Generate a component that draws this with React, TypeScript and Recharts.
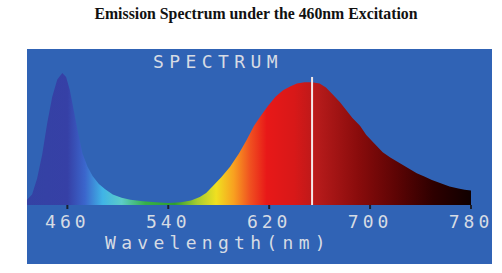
import { Area, AreaChart, ReferenceLine, XAxis, YAxis } from "recharts";

// wavelength (nm) and normalised intensity
const wavelengths = [
  428, 432, 436, 440, 444, 448, 452, 456, 459, 462, 465, 468, 472, 476, 480, 485, 490, 496, 503, 510,
  520, 530, 540, 550, 558, 565, 570, 575, 582, 589, 596, 602, 608, 613, 619, 625, 631, 637, 642, 648,
  654, 660, 665, 670, 676, 681, 686, 692, 697, 703, 710, 716, 723, 730, 737, 743, 749, 756, 763, 770,
  775, 780,
];
const intensity = [
  0.04, 0.08, 0.2, 0.38, 0.62, 0.82, 0.95, 1.0, 0.97, 0.87, 0.72, 0.57, 0.39, 0.29, 0.22, 0.16, 0.12, 0.08, 0.055, 0.04,
  0.028, 0.02, 0.015, 0.02, 0.035, 0.06, 0.09, 0.14, 0.21, 0.29, 0.39, 0.49, 0.6, 0.67, 0.75, 0.82, 0.87, 0.9, 0.92, 0.93,
  0.93, 0.92, 0.89, 0.84, 0.78, 0.72, 0.66, 0.6, 0.53, 0.47, 0.4, 0.36, 0.32, 0.28, 0.24, 0.215, 0.19, 0.165, 0.14, 0.125,
  0.115, 0.11,
];
const xTicks = [460, 540, 620, 700, 780];
const markerNm = 654;

const X_MIN = 428;
const X_MAX = 780;

// colour of the fill at a given wavelength
const spectrumStops: [number, string][] = [
  [428, "#3442a4"],
  [460, "#3640a6"],
  [474, "#3b66cc"],
  [488, "#40b4e6"],
  [503, "#5cccc8"],
  [522, "#36b048"],
  [545, "#2e9e30"],
  [563, "#a6cc30"],
  [578, "#f0e020"],
  [592, "#f8a020"],
  [605, "#f05020"],
  [618, "#e81818"],
  [640, "#d81818"],
  [660, "#b41a1a"],
  [690, "#8a0c0c"],
  [720, "#5e0404"],
  [750, "#2e0000"],
  [780, "#100000"],
];

const data = wavelengths.map((nm, i) => ({ nm, value: intensity[i] }));

const mono = "'DejaVu Sans Mono', 'Liberation Mono', monospace";
const textColor = "#d6dbe4";

export default function App() {
  return (
    <div style={{ position: "absolute", left: 0, top: 0, width: 502, height: 273, background: "#fff" }}>
      <div
        style={{
          position: "absolute",
          left: 0,
          top: 5,
          width: 512,
          textAlign: "center",
          fontFamily: "'Liberation Serif', 'Times New Roman', serif",
          fontWeight: "bold",
          fontSize: 15.8,
          color: "#111",
        }}
      >
        Emission Spectrum under the 460nm Excitation
      </div>
      <div style={{ position: "absolute", left: 27, top: 49, width: 465, height: 215, background: "#3063b5" }} />
      <div
        style={{
          position: "absolute",
          left: 153,
          top: 53,
          fontFamily: mono,
          fontSize: 18,
          lineHeight: "18px",
          letterSpacing: 5.4,
          color: textColor,
          whiteSpace: "nowrap",
        }}
      >
        SPECTRUM
      </div>
      <div
        style={{
          position: "absolute",
          left: 105,
          top: 234,
          fontFamily: mono,
          fontSize: 18,
          lineHeight: "18px",
          letterSpacing: 5.3,
          color: textColor,
          whiteSpace: "nowrap",
        }}
      >
        Wavelength(nm)
      </div>
      <div style={{ position: "absolute", left: 0, top: 0 }}>
        <AreaChart width={502} height={273} data={data} margin={{ top: 73, right: 31, left: 27, bottom: 38 }}>
          <defs>
            <linearGradient id="spectrumFill" x1="0" y1="0" x2="1" y2="0">
              {spectrumStops.map(([nm, color]) => (
                <stop key={nm} offset={`${((nm - X_MIN) / (X_MAX - X_MIN)) * 100}%`} stopColor={color} />
              ))}
            </linearGradient>
          </defs>
          <XAxis
            dataKey="nm"
            type="number"
            domain={[X_MIN, X_MAX]}
            ticks={xTicks}
            height={30}
            axisLine={false}
            tickSize={4}
            tickLine={{ stroke: "#1a2030", strokeWidth: 2 }}
            tick={{ fontSize: 18, fill: textColor, fontFamily: mono, letterSpacing: 4 }}
            tickMargin={6}
            interval={0}
          />
          <YAxis hide domain={[0, 1]} />
          <Area
            type="linear"
            dataKey="value"
            stroke="none"
            fill="url(#spectrumFill)"
            fillOpacity={1}
            isAnimationActive={false}
          />
          <ReferenceLine
            segment={[
              { x: markerNm, y: 0 },
              { x: markerNm, y: 0.97 },
            ]}
            stroke="#f4e8e8"
            strokeWidth={2}
          />
        </AreaChart>
      </div>
    </div>
  );
}
